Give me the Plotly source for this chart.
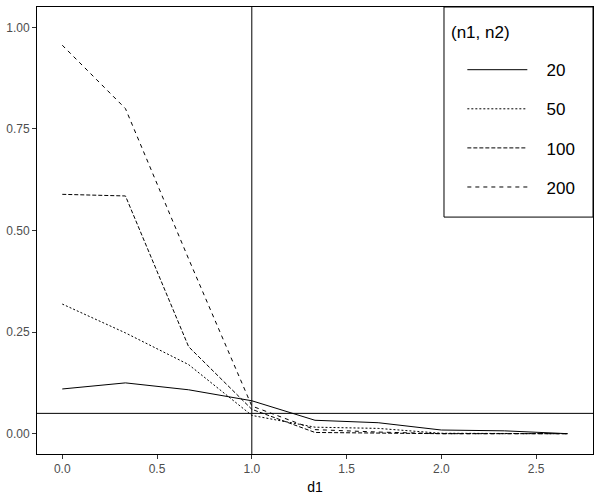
import plotly.graph_objects as go

d1 = [0, 1/3, 2/3, 1, 4/3, 5/3, 2, 7/3, 8/3]
groups = ["20", "50", "100", "200"]
p20 = [0.110, 0.125, 0.108, 0.081, 0.033, 0.027, 0.009, 0.007, 0.000]
p50 = [0.319, 0.248, 0.170, 0.045, 0.016, 0.013, 0.001, 0.000, 0.000]
p100 = [0.589, 0.585, 0.214, 0.060, 0.003, 0.001, 0.000, 0.000, 0.000]
p200 = [0.956, 0.800, 0.430, 0.068, 0.010, 0.004, 0.000, 0.000, 0.000]
series = [p20, p50, p100, p200]
dashes = ["solid", "2px,2px", "4px,2px", "4px,4px"]

pad = "\u00a0" * 3

fig = go.Figure()
for name, vals, dash in zip(groups, series, dashes):
    fig.add_trace(go.Scatter(x=d1, y=vals, mode="lines", name=pad + name,
                             legendgroup=name,
                             line=dict(color="black", width=1, dash=dash)))

# reference lines
fig.add_hline(y=0.05, line_color="black", line_width=1)
fig.add_vline(x=1, line_color="black", line_width=1)

axis_common = dict(showgrid=False, zeroline=False, showline=True, mirror=True,
                   linecolor="black", linewidth=1, ticks="outside", ticklen=4,
                   tickcolor="#333333", tickfont=dict(size=12, color="#4D4D4D"),
                   automargin=False)

fig.update_xaxes(range=[-0.1333, 2.8], tickvals=[0, 0.5, 1, 1.5, 2, 2.5],
                 ticktext=["0.0", "0.5", "1.0", "1.5", "2.0", "2.5"],
                 title=dict(text="d1", font=dict(size=14, color="black"), standoff=6),
                 **axis_common)
fig.update_yaxes(range=[-0.05, 1.05], tickvals=[0, 0.25, 0.5, 0.75, 1],
                 ticktext=["0.00", "0.25", "0.50", "0.75", "1.00"],
                 **axis_common)

# legend box and title
fig.add_shape(type="rect", xref="paper", yref="paper",
              x0=0.732, x1=1, y0=0.530, y1=1,
              line=dict(color="black", width=1), fillcolor="white", layer="below")
fig.add_annotation(text="(n1, n2)", xref="paper", yref="paper",
                   x=0.741, y=0.942, xanchor="left", yanchor="middle",
                   showarrow=False, font=dict(size=17, color="black"))

fig.update_layout(
    width=600, height=500,
    margin=dict(l=37, r=7, t=7, b=46),
    plot_bgcolor="white", paper_bgcolor="white",
    font=dict(family="Liberation Sans, Arial, sans-serif"),
    legend=dict(x=0.765, y=0.899, xanchor="left", yanchor="top",
                borderwidth=0, bgcolor="rgba(0,0,0,0)",
                font=dict(size=17, color="black"), itemwidth=60, tracegroupgap=14),
)

# drop the browser's default body margin so the figure fills the window
fig.write_html("out.html", config={"displayModeBar": False},
               post_script="document.body.style.margin='0';")
